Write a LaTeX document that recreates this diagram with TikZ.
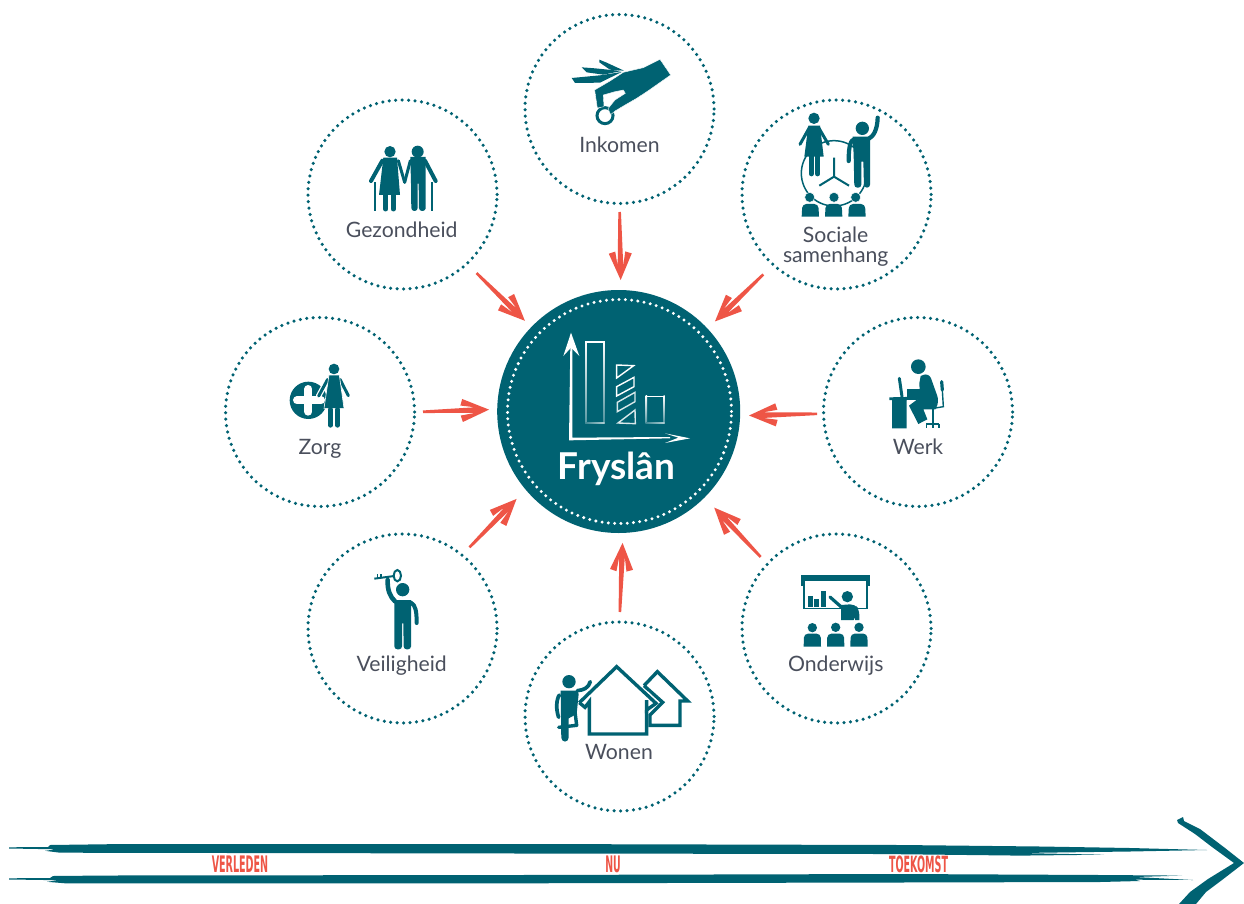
\documentclass[tikz,border=0pt]{standalone}
\usepackage{fontspec}
\usepackage{graphicx}
\setmainfont{Lato}
\newfontfamily\barfont{DejaVu Sans}
\usetikzlibrary{calc,shapes.geometric}
\definecolor{ftteal}{HTML}{006272}
\definecolor{ftred}{HTML}{EE5546}
\definecolor{fttext}{HTML}{4A4F5C}
\tikzset{
  x=1pt,y=-1pt,
  ring/.style={circle,draw=ftteal,line width=3.5pt,line cap=round,dash pattern=on 0pt off 6.47pt,minimum size=189pt,inner sep=0pt,outer sep=0pt},
  hub/.style={circle,fill=ftteal,minimum size=243pt,inner sep=0pt,outer sep=0pt},
  hubring/.style={circle,draw=white,line width=3.3pt,line cap=round,dash pattern=on 0pt off 6.3pt,minimum size=224pt,inner sep=0pt,outer sep=0pt},
  lab/.style={anchor=base,font=\fontsize{21.2}{23}\selectfont,text=fttext,inner sep=0pt},
  tlab/.style={anchor=center,text=ftred,inner sep=0pt},
  icon/.style={shift={(#1)},scale=1/3},
  limb/.style={draw=ftteal,line width=#1,line cap=round,line join=round},
  solid/.style={fill=ftteal,draw=none},
  brush/.style 2 args={fill=ftred,draw=none,to path={
    let \p1=($(\tikztostart)!#1pt!(\tikztotarget)$),
        \p2=($(\tikztotarget)!#2pt!(\tikztostart)$) in
    ($(\p1)!1.3pt!90:(\p2)$)
    -- ($(\p2)!13pt!(\p1)!-2.8pt!90:(\p1)$)
    -- ($(\p2)!27.5pt!(\p1)!-5pt!90:(\p1)$)
    -- ($(\p2)!25.5pt!(\p1)!-11.5pt!90:(\p1)$)
    -- ($(\p2)!-1pt!(\p1)$)
    -- ($(\p2)!25.5pt!(\p1)!11.5pt!90:(\p1)$)
    -- ($(\p2)!27.5pt!(\p1)!5pt!90:(\p1)$)
    -- ($(\p2)!13pt!(\p1)!2.8pt!90:(\p1)$)
    -- ($(\p1)!-1.3pt!90:(\p2)$) -- cycle}},
}
% small seated figure seen from the front: head and shoulders
\newcommand{\ftbust}[4]{%
  \fill[ftteal] (#1,#2) circle[radius=14];
  \fill[ftteal] (#1-26,#4) [rounded corners=4pt] -- (#1-25,#3) -- (#1+25,#3) [sharp corners] -- (#1+26,#4) -- cycle;
}
% bar of the chart whose outline fades to the bottom
\newcommand{\ftbar}[4]{%
  \fill[white] (#1,#2) rectangle (#3,#2+5);
  \shade[top color=white,bottom color=white!35!ftteal] (#1,#2) rectangle (#1+4,#4);
  \shade[top color=white,bottom color=white!30!ftteal] (#3-3,#2) rectangle (#3,#4);
  \shade[left color=white!25!ftteal,right color=white!70!ftteal] (#1,#4-3) rectangle (#3,#4);
}
\begin{document}
\begin{tikzpicture}
\useasboundingbox (0,0) rectangle (1244,904);
\fill[white] (0,0) rectangle (1244,904);

% ---- rings
\node[ring] (inkomen) at (619.5,109) {};
\node[ring] (sociale) at (836.5,194.5) {};
\node[ring] (gezond) at (402.5,194.5) {};
\node[ring] (zorg) at (320,412) {};
\node[ring] (werk) at (918,412) {};
\node[ring] (onderwijs) at (836.5,628.5) {};
\node[ring] (veilig) at (402.5,628.5) {};
\node[ring] (wonen) at (619.5,716.5) {};
\node[hub] (core) at (618.7,411.5) {};
\node[hubring] (corering) at (619.5,411.5) {};

% ---- arrows
\path[brush={8.5}{11}] (inkomen.-90) to (core.89);
\path[brush={13.9}{11.3}] (sociale.228.7) to (core.43.5);
\path[brush={13.5}{10}] (gezond.-47.2) to (core.136);
\path[brush={8.5}{9.2}] (zorg.-0.5) to (core.179.8);
\path[brush={6.5}{9.9}] (werk.181) to (core.-2);
\path[brush={10.8}{14}] (veilig.51.6) to (core.220.7);
\path[brush={9.8}{15}] (onderwijs.137.7) to (core.-45.1);
\path[brush={10}{11}] (wonen.90) to (core.-88.6);

% ---- labels
\node[lab] (tinkomen) at (619.5,152.2) {Inkomen};
\node[lab] (tgezond) at (401.7,237.2) {Gezondheid};
\node[lab] (tsociale) at (835.5,242.2) {Sociale};
\node[lab] (tsamen) at (835.7,262) {samenhang};
\node[lab] (tzorg) at (320,454.5) {Zorg};
\node[lab] (twerk) at (918,454.6) {Werk};
\node[lab] (tonderwijs) at (835.7,671.3) {Onderwijs};
\node[lab] (tveilig) at (401.7,671.3) {Veiligheid};
\node[lab] (twonen) at (619,759.6) {Wonen};
\node[anchor=base,text=white,inner sep=0pt,font=\fontsize{37}{39}\selectfont\bfseries] (tfrys) at (616.5,479.3) {Fryslân};

% ---- Inkomen icon
\begin{scope}[icon={520,10}]
  \draw[ftteal,line width=3pt] (255,317) circle[radius=24];
  \fill[ftteal] (155,204) -- (240,196) -- (305,186) -- (240,218) -- (165,219) -- cycle;
  \fill[ftteal] (185,172) -- (225,175) -- (305,183) -- (250,194) -- (200,187) -- cycle;
  \fill[ftteal] (238,149) -- (260,158) -- (312,182) -- (270,179) -- (238,157) -- cycle;
  \filldraw[fill=ftteal,draw=white,line width=.4pt,line join=round]
    (420,148) -- (452,195) -- (385,242) -- (350,265) -- (310,288) -- (285,303) -- (272,314)
    -- (264,296) -- (285,270) -- (316,250) -- (310,240) -- (285,245) -- (250,255) -- (252,290) -- (232,294)
    -- (224,240) -- (270,213) -- (310,187) -- (370,173) -- cycle;
\end{scope}

% ---- Sociale samenhang icon
\begin{scope}[icon={740,95}]
  \draw[ftteal,line width=1.5pt] (282,235) circle[radius=98];
  \draw[ftteal,line width=2pt] (282,188) -- (282,245) (238,272) -- (282,245) -- (327,272);
  \filldraw[fill=ftteal,draw=white,line width=.5pt] (209,307) circle[radius=15];
  \filldraw[fill=ftteal,draw=white,line width=.5pt] (282,307) circle[radius=15];
  \filldraw[fill=ftteal,draw=white,line width=.5pt] (347,307) circle[radius=15];
  \fill[ftteal] (185,365) [rounded corners=4pt] -- (187,327) -- (235,327) [sharp corners] -- (237,365) -- cycle;
  \fill[ftteal] (255,365) [rounded corners=4pt] -- (257,327) -- (305,327) [sharp corners] -- (307,365) -- cycle;
  \fill[ftteal] (325,365) [rounded corners=4pt] -- (327,327) -- (375,327) [sharp corners] -- (377,365) -- cycle;
  % woman
  \fill[ftteal] (222,70) circle[radius=17];
  \draw[limb=3pt] (208,98) -- (180,148) (236,98) -- (265,148);
  \fill[ftteal] (205,92) -- (240,92) -- (251,185) -- (193,185) -- cycle;
  \draw[limb=4.7pt] (214,185) -- (214,237) (233,185) -- (233,237);
  % man
  \fill[ftteal] (367,100) circle[radius=20];
  \draw[limb=4.2pt] (345,132) .. controls (332,135) and (326,150) .. (326,198);
  \draw[limb=4.2pt] (385,132) .. controls (400,125) and (412,105) .. (413,68);
  \fill[ftteal] (338,125) -- (390,125) -- (390,268) [rounded corners=3pt] -- (390,278) -- (372,278) [sharp corners] -- (370,200) -- (364,200) [rounded corners=3pt] -- (364,278) -- (343,278) [sharp corners] -- (341,180) -- cycle;
\end{scope}

% ---- Gezondheid icon
\begin{scope}[icon={305,95}]
  \draw[ftteal,line width=1.6pt] (210,262) -- (210,348);
  \draw[ftteal,line width=1.6pt] (381,262) -- (381,348);
  \fill[ftteal] (255,170) circle[radius=17];
  \fill[ftteal] (338,170) circle[radius=18];
  \draw[limb=4pt] (232,197) -- (198,258);
  \draw[limb=3pt] (280,197) -- (299,262);
  \fill[ftteal] (235,188) -- (276,188) -- (285,300) -- (222,300) -- cycle;
  \draw[limb=5pt] (242,300) -- (242,342) (265,300) -- (265,342);
  \draw[limb=3pt] (316,197) -- (299,262);
  \draw[limb=4pt] (360,197) -- (392,258);
  \fill[ftteal] (316,186) -- (362,186) -- (362,342) [rounded corners=3pt] -- (362,348) -- (342,348) [sharp corners] -- (341,266) -- (338,266) [rounded corners=3pt] -- (338,348) -- (319,348) [sharp corners] -- (318,266) -- cycle;
\end{scope}

% ---- Zorg icon
\begin{scope}[icon={225,340}]
  \fill[ftteal] (250,181) circle[radius=56];
  \draw[white,line width=8pt,line cap=round] (216,181) -- (288,181) (250,147) -- (250,215);
  \fill[ftteal] (327,87) circle[radius=16];
  \draw[white,line width=5.5pt,line cap=round] (308,118) -- (281,168);
  \draw[limb=3pt] (308,118) -- (281,168);
  \draw[limb=3pt] (345,118) -- (370,167);
  \filldraw[fill=ftteal,draw=white,line width=.6pt] (312,105) -- (343,105) -- (357,205) -- (297,205) -- cycle;
  \draw[limb=4.6pt] (316,208) -- (316,256) (338,208) -- (338,256);
\end{scope}

% ---- Werk icon
\begin{scope}[icon={750,340}]
  \fill[ftteal] (505,80) circle[radius=22];
  % laptop
  \draw[limb=3pt] (448,115) -- (456,170);
  \fill[ftteal] (470,148) rectangle (510,170);
  % desk
  \fill[ftteal] (418,172) -- (512,170) -- (512,179) -- (470,180) -- (470,265) -- (426,265) -- (426,180) -- (418,180) -- cycle;
  % body
  \fill[ftteal] (512,108) [rounded corners=6pt] -- (537,98) -- (568,185) [sharp corners] -- (556,208) -- (520,208) -- (532,238) -- (505,252) -- (477,197) -- (510,172) -- (508,130) -- cycle;
  % chair
  \draw[limb=3.2pt] (575,125) -- (577,150);
  \draw[ftteal,line width=1.4pt] (577,150) -- (580,200) -- (550,205);
  \draw[ftteal,line width=2pt] (548,205) -- (548,252);
  \draw[ftteal,line width=1.6pt] (528,252) -- (568,252);
  \draw[ftteal,line width=1.2pt] (530,252) -- (530,263) (549,252) -- (549,263) (567,252) -- (567,263);
\end{scope}

% ---- Onderwijs icon
\begin{scope}[icon={740,530}]
  \fill[ftteal] (183,135) rectangle (390,153);
  \fill[ftteal] (183,153) rectangle (192,167);
  \fill[ftteal] (382,153) rectangle (390,167);
  \draw[ftteal,line width=1.5pt] (192,153) -- (192,236) -- (381,236) -- (381,153);
  \fill[ftteal] (204,198) rectangle (219,232);
  \fill[ftteal] (222,207) rectangle (237,232);
  \fill[ftteal] (243,183) rectangle (258,232);
  \fill[white] (296,240) rectangle (362,272);
  \fill[ftteal] (322,200) circle[radius=17];
  \draw[limb=3.2pt] (270,201) -- (305,232);
  \fill[ftteal] (303,225) [rounded corners=5pt] -- (345,222) -- (358,240) [sharp corners] -- (358,270) -- (345,270) -- (345,262) -- (341,270) -- (303,270) -- cycle;
  \ftbust{217}{293}{311}{350}
  \ftbust{287}{292}{311}{350}
  \ftbust{357}{292}{311}{350}
\end{scope}

% ---- Wonen icon
\begin{scope}[icon={520,620}]
  \draw[ftteal,line width=3.4pt,line join=miter] (372,197) -- (412,155) -- (503,243) -- (480,243) -- (480,316) -- (390,316) -- (390,285) -- (428,247) -- (372,197);
  \fill[white] (345,215) -- (385,215) -- (415,245) -- (385,280) -- (345,280) -- cycle;
  \draw[ftteal,line width=3.4pt,line join=miter] (178,248) -- (290,140) -- (408,250) -- (380,270) -- (380,240);
  \draw[ftteal,line width=3.4pt,line join=miter] (178,248) -- (195,262) -- (208,245) -- (208,342) -- (380,342) -- (380,270);
  % person
  \fill[ftteal] (147,185) circle[radius=20];
  \draw[limb=3.7pt] (172,212) .. controls (190,210) and (205,205) .. (211,185);
  \draw[limb=3.7pt] (118,225) .. controls (108,240) and (108,270) .. (116,292);
  \draw[limb=3.4pt] (165,275) -- (170,316) -- (116,322);
  \fill[ftteal] (122,212) -- (172,212) -- (176,222) -- (170,282) -- (146,295) [rounded corners=4pt] -- (146,365) -- (124,365) [sharp corners] -- cycle;
\end{scope}

% ---- Veiligheid icon
\begin{scope}[icon={305,530}]
  \fill[ftteal] (293,179) circle[radius=20];
  \draw[limb=4.6pt] (270,214) .. controls (255,200) and (247,180) .. (248,150);
  \draw[limb=4pt] (318,218) .. controls (332,225) and (335,245) .. (335,279);
  \fill[ftteal] (268,210) -- (318,210) -- (318,350) [rounded corners=3pt] -- (318,358) -- (296,358) [sharp corners] -- (295,280) -- (291,280) [rounded corners=3pt] -- (291,358) -- (268,358) [sharp corners] -- cycle;
  \draw[ftteal,line width=2pt] (208,146) -- (268,138);
  \draw[ftteal,line width=1.6pt] (217,132) -- (217,146) (228,132) -- (228,144);
  \draw[ftteal,line width=2pt] (277,137) ellipse[x radius=11,y radius=17];
\end{scope}

% ---- chart in the hub
\begin{scope}[icon={490,285}]
  \fill[white] (237,466) -- (241,180) -- (247,180) -- (247,458) -- (540,456) -- (540,460) -- (237,466) -- cycle;
  \fill[white] (243,143) -- (268,213) -- (243,188) -- (220,213) -- cycle;
  \fill[white] (600,460) -- (525,445) -- (565,458) -- (525,474) -- cycle;
  \ftbar{286}{168}{344}{415}
  \ftbar{467}{332}{524}{415}
  \draw[white,line width=1.4pt,line join=miter] (380,240) -- (431,242) -- (380,279) -- cycle;
  \draw[white,line width=1.4pt,line join=miter] (380,305) -- (432,277) -- (432,305) -- (380,333) -- cycle;
  \draw[white!85!ftteal,line width=1.4pt,line join=miter] (382,352) -- (435,322) -- (435,350) -- (382,380) -- cycle;
  \draw[white!85!ftteal,line width=1.4pt,line join=miter] (435,375) -- (436,416) -- (384,414) -- cycle;
\end{scope}

% ---- time arrow
\fill[ftteal] (9,847.3) -- (48,847) -- (50,845) -- (110,844.2) -- (520,844) -- (900,845) -- (1040,846.5) -- (1130,848) -- (1207,850) -- (1130,851.5) -- (1020,853) -- (1104,854.7) -- (1020,855.6) -- (880,854) -- (520,853.5) -- (60,852.7) -- (45,850.8) -- (56,849.3) -- (9,848.5) -- cycle;
\fill[ftteal] (9,878.3) -- (50,878) -- (53,876) -- (110,875.5) -- (520,875) -- (900,874) -- (1100,875) -- (1182,875.6) -- (1135,877) -- (1193,880) -- (1135,879.7) -- (1140,881) -- (1100,882) -- (900,882.5) -- (520,883.3) -- (65,883.3) -- (47,881.8) -- (58,880.2) -- (9,879.5) -- cycle;
\fill[ftteal] (1177,820) -- (1183,817) -- (1184,821) -- (1200,829) -- (1225,848) -- (1244,863) -- (1222,880) -- (1206,892) -- (1196,904) -- (1179,904) -- (1190,892) -- (1208,879) -- (1234,863) -- (1212,847) -- (1195,834) -- (1178,823) -- cycle;

\node[tlab] (verleden) at (240,864) {\resizebox{56.5pt}{16.6pt}{\barfont\bfseries VERLEDEN}};
\node[tlab] (nu) at (613,864) {\resizebox{15.5pt}{16.6pt}{\barfont\bfseries NU}};
\node[tlab] (toekomst) at (918.5,864) {\resizebox{59pt}{16.6pt}{\barfont\bfseries TOEKOMST}};
\end{tikzpicture}
\end{document}
